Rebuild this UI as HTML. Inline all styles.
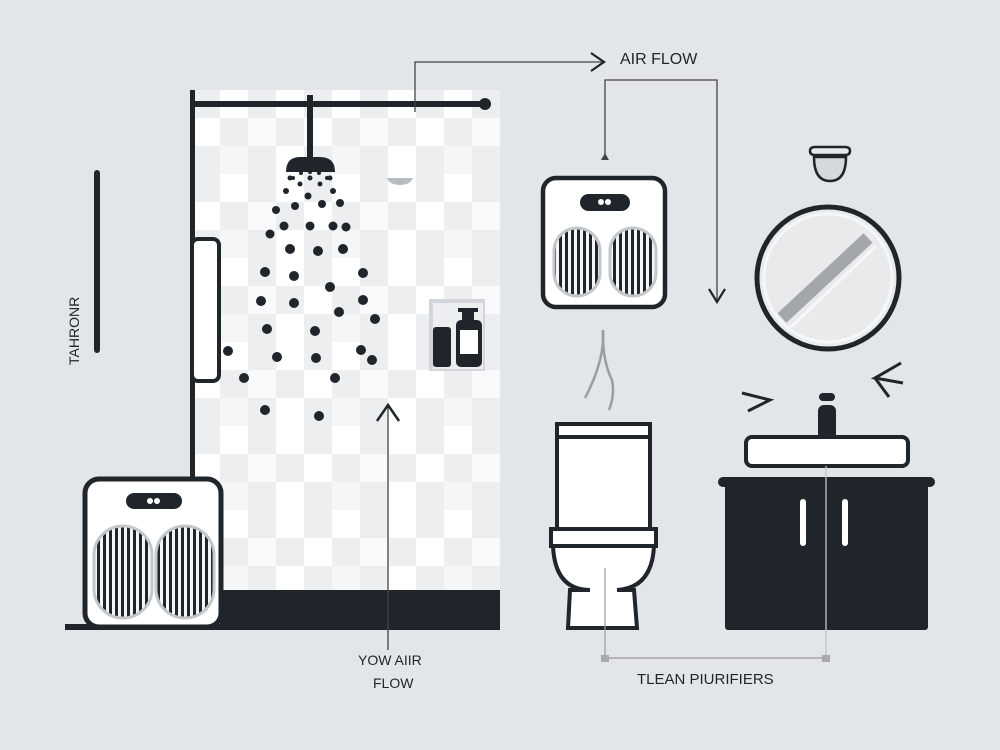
<!DOCTYPE html>
<html><head><meta charset="utf-8"><style>
html,body{margin:0;padding:0;background:#e3e6e9;}
svg{display:block}
text{font-family:"Liberation Sans",sans-serif;fill:#1f252b}
</style></head><body>
<svg width="1000" height="750" viewBox="0 0 1000 750" xmlns="http://www.w3.org/2000/svg">
<defs>
<pattern id="tiles" x="220" y="90" width="112" height="84" patternUnits="userSpaceOnUse">
<rect width="112" height="84" fill="#eceef0"/>
<rect x="0" y="0" width="28" height="28" fill="#ffffff"/>
<rect x="56" y="0" width="28" height="28" fill="#ffffff"/>
<rect x="28" y="28" width="28" height="28" fill="#f8f9fa"/>
<rect x="84" y="28" width="28" height="28" fill="#ffffff"/>
<rect x="56" y="56" width="28" height="28" fill="#ffffff"/>
<rect x="0" y="56" width="28" height="28" fill="#f5f6f7"/>
</pattern>
<pattern id="stripes" x="0" y="0" width="6" height="10" patternUnits="userSpaceOnUse">
<rect width="6" height="10" fill="#f4f5f6"/>
<rect x="1" width="3" height="10" fill="#1f252b"/>
</pattern>
</defs>
<rect width="1000" height="750" fill="#e3e6e9"/>

<!-- shower wall -->
<rect x="195" y="90" width="305" height="505" fill="url(#tiles)"/>
<rect x="220" y="590" width="280" height="40" fill="#1f252b"/>
<rect x="65" y="624" width="160" height="6" fill="#1f252b"/>
<rect x="190" y="90" width="5" height="390" fill="#1f252b"/>
<rect x="192" y="101" width="293" height="6" fill="#1f252b"/>
<circle cx="485" cy="104" r="6" fill="#1f252b"/>
<rect x="307" y="95" width="6" height="65" fill="#1f252b"/>
<path d="M286 172 Q286 157 300 157 L320 157 Q335 157 335 172 Z" fill="#1f252b"/>
<path d="M387 178 L413 178 Q410 185 400 185 Q390 185 387 178Z" fill="#b8bcc0"/>
<!-- droplets -->
<g fill="#1f252b">
<circle cx="293" cy="178" r="2"/><circle cx="301" cy="173" r="2"/><circle cx="310" cy="172" r="2"/><circle cx="319" cy="173" r="2"/><circle cx="327" cy="178" r="2"/>
<circle cx="290" cy="178" r="2.5"/><circle cx="300" cy="184" r="2.5"/><circle cx="310" cy="178" r="2.5"/><circle cx="320" cy="184" r="2.5"/><circle cx="330" cy="178" r="2.5"/>
<circle cx="286" cy="191" r="3"/><circle cx="308" cy="196" r="3.5"/><circle cx="333" cy="191" r="3"/>
<circle cx="276" cy="210" r="4"/><circle cx="295" cy="206" r="4"/><circle cx="322" cy="204" r="4"/><circle cx="340" cy="203" r="4"/>
<circle cx="270" cy="234" r="4.5"/><circle cx="284" cy="226" r="4.5"/><circle cx="310" cy="226" r="4.5"/><circle cx="333" cy="226" r="4.5"/><circle cx="346" cy="227" r="4.5"/>
<circle cx="290" cy="249" r="5"/><circle cx="318" cy="251" r="5"/><circle cx="343" cy="249" r="5"/>
<circle cx="265" cy="272" r="5"/><circle cx="294" cy="276" r="5"/><circle cx="330" cy="287" r="5"/><circle cx="363" cy="273" r="5"/>
<circle cx="261" cy="301" r="5"/><circle cx="294" cy="303" r="5"/><circle cx="339" cy="312" r="5"/><circle cx="363" cy="300" r="5"/><circle cx="375" cy="319" r="5"/>
<circle cx="228" cy="351" r="5"/><circle cx="267" cy="329" r="5"/><circle cx="315" cy="331" r="5"/>
<circle cx="277" cy="357" r="5"/><circle cx="316" cy="358" r="5"/><circle cx="361" cy="350" r="5"/><circle cx="372" cy="360" r="5"/>
<circle cx="244" cy="378" r="5"/><circle cx="335" cy="378" r="5"/><circle cx="265" cy="410" r="5"/><circle cx="319" cy="416" r="5"/>
</g>
<!-- door handle -->
<rect x="192" y="239" width="27" height="142" rx="6" fill="#fff" stroke="#1f252b" stroke-width="4"/>
<!-- niche -->
<rect x="429" y="299" width="56" height="72" fill="#d3d6d9"/>
<rect x="433" y="303" width="50" height="66" fill="#eceef0"/>
<rect x="433" y="327" width="18" height="40" rx="3" fill="#1f252b"/>
<rect x="456" y="320" width="26" height="47" rx="5" fill="#1f252b"/>
<rect x="462" y="311" width="12" height="12" fill="#1f252b"/><rect x="458" y="308" width="20" height="4" fill="#1f252b"/>
<rect x="460" y="330" width="18" height="24" fill="#fff"/>

<!-- up arrow -->
<line x1="388" y1="405" x2="388" y2="650" stroke="#444" stroke-width="1.3"/>
<polyline points="377,421 388,405 399,421" fill="none" stroke="#1f252b" stroke-width="2.5"/>

<!-- left bar and text -->
<line x1="97" y1="173" x2="97" y2="350" stroke="#1f252b" stroke-width="6" stroke-linecap="round"/>
<text x="0" y="0" font-size="14" transform="translate(79,365) rotate(-90)">TAHRONR</text>

<!-- left purifier -->
<rect x="85" y="479" width="136" height="148" rx="14" fill="#fff" stroke="#1f252b" stroke-width="5"/>
<rect x="126" y="493" width="56" height="16" rx="8" fill="#1f252b"/>
<circle cx="150" cy="501" r="3" fill="#fff"/><circle cx="157" cy="501" r="3" fill="#fff"/>
<rect x="94" y="526" width="58" height="92" rx="29" fill="url(#stripes)" stroke="#c4c7ca" stroke-width="3"/>
<rect x="156" y="526" width="58" height="92" rx="29" fill="url(#stripes)" stroke="#c4c7ca" stroke-width="3"/>

<!-- airflow connectors -->
<polyline points="415,112 415,62 603,62" fill="none" stroke="#444" stroke-width="1.3"/>
<polyline points="591,53 604,62 591,71" fill="none" stroke="#1f252b" stroke-width="2.2"/>
<text x="620" y="64" font-size="16">AIR FLOW</text>
<polyline points="605,160 605,80 717,80 717,300" fill="none" stroke="#444" stroke-width="1.3"/>
<polyline points="709,289 717,302 725,289" fill="none" stroke="#1f252b" stroke-width="2.2"/>
<path d="M601 160 L609 160 L605 153Z" fill="#444"/>

<!-- right purifier -->
<rect x="543" y="178" width="122" height="129" rx="13" fill="#fff" stroke="#1f252b" stroke-width="4.5"/>
<rect x="580" y="194" width="50" height="17" rx="8.5" fill="#1f252b"/>
<circle cx="601" cy="202" r="3" fill="#fff"/><circle cx="608" cy="202" r="3" fill="#fff"/>
<rect x="554" y="228" width="46" height="68" rx="23" fill="url(#stripes)" stroke="#c4c7ca" stroke-width="3"/>
<rect x="610" y="228" width="46" height="68" rx="23" fill="url(#stripes)" stroke="#c4c7ca" stroke-width="3"/>

<!-- wisps -->
<path d="M603 330 Q605 360 585 398" fill="none" stroke="#9a9ea2" stroke-width="2.5"/>
<path d="M603 330 Q602 360 612 380 Q615 395 609 410" fill="none" stroke="#9a9ea2" stroke-width="2.5"/>

<!-- light -->
<path d="M810 151 Q810 147 815 147 L845 147 Q850 147 850 151 Q850 155 845 155 L815 155 Q810 155 810 151Z" fill="#e8eaec" stroke="#1f252b" stroke-width="2.5"/>
<path d="M814 157 L846 157 Q846 181 830 181 Q814 181 814 157Z" fill="#d6d9dc" stroke="#1f252b" stroke-width="2.5"/>

<!-- mirror -->
<circle cx="828" cy="278" r="71" fill="#e8eaec" stroke="#1f252b" stroke-width="5"/>
<circle cx="828" cy="278" r="64" fill="none" stroke="#f6f7f8" stroke-width="3"/>
<line x1="782" y1="318" x2="868" y2="238" stroke="#a4a7aa" stroke-width="13"/>
<line x1="790" y1="328" x2="876" y2="246" stroke="#f6f7f8" stroke-width="3"/>

<!-- arrows near sink -->
<polyline points="742,393 770,400 748,411" fill="none" stroke="#1f252b" stroke-width="3"/>
<polyline points="901,363 875,378 903,383" fill="none" stroke="#1f252b" stroke-width="3"/>
<line x1="875" y1="378" x2="889" y2="397" stroke="#1f252b" stroke-width="3"/>

<!-- toilet -->
<rect x="557" y="424" width="93" height="110" fill="#fff" stroke="#1f252b" stroke-width="4"/>
<line x1="557" y1="437" x2="650" y2="437" stroke="#1f252b" stroke-width="4"/>
<rect x="551" y="529" width="105" height="17" fill="#fff" stroke="#1f252b" stroke-width="4"/>
<path d="M553 546 Q555 590 590 590 L570 590 L568 628 L637 628 L634 590 L617 590 Q652 588 654 546Z" fill="#fff" stroke="#1f252b" stroke-width="4"/>
<line x1="605" y1="568" x2="605" y2="660" stroke="#999" stroke-width="1.2"/>

<!-- sink -->
<rect x="818" y="405" width="18" height="40" rx="6" fill="#1f252b"/>
<rect x="819" y="393" width="16" height="8" rx="4" fill="#1f252b"/>
<rect x="746" y="437" width="162" height="29" rx="6" fill="#fff" stroke="#1f252b" stroke-width="4"/>
<rect x="718" y="477" width="217" height="10" rx="5" fill="#1f252b"/>
<rect x="725" y="480" width="203" height="150" rx="3" fill="#1f252b"/>
<rect x="800" y="499" width="6" height="47" rx="3" fill="#fff"/>
<rect x="842" y="499" width="6" height="47" rx="3" fill="#fff"/>
<line x1="826" y1="466" x2="826" y2="660" stroke="#bfc2c5" stroke-width="1.3"/>

<!-- bracket -->
<line x1="605" y1="658" x2="828" y2="658" stroke="#999" stroke-width="1.3"/>
<rect x="601" y="655" width="8" height="7" fill="#aaa"/><rect x="822" y="655" width="8" height="7" fill="#aaa"/>

<text x="358" y="665" font-size="14">YOW AIIR</text>
<text x="373" y="688" font-size="14">FLOW</text>
<text x="637" y="684" font-size="15">TLEAN PIURIFIERS</text>
</svg>
</body></html>
